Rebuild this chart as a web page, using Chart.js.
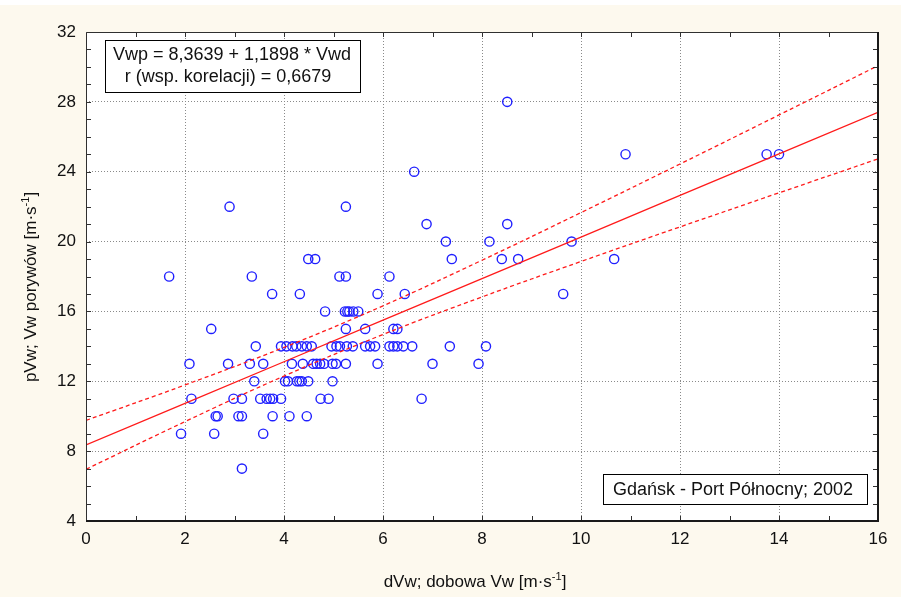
<!DOCTYPE html>
<html>
<head>
<meta charset="utf-8">
<script src="https://cdn.jsdelivr.net/npm/chart.js@4/dist/chart.umd.min.js"></script>
<style>
  html, body { margin: 0; padding: 0; background: #fdf9ee; }
  canvas { display: block; }
</style>
</head>
<body>
<canvas id="gustChart" width="901" height="597"></canvas>
<script>
// dobowa prędkość wiatru (x) i porywy (y)
const dailyWind = [
    3.15,
    1.92, 2.59, 3.58,
    2.62, 2.66, 3.08, 3.15, 3.77, 4.11, 4.46,
    2.13, 2.98, 3.15, 3.52, 3.65, 3.72, 3.78, 3.94, 4.74, 4.90, 6.78,
    3.40, 4.02, 4.08, 4.26, 4.31, 4.36, 4.49, 4.98,
    2.09, 2.87, 3.31, 3.58, 4.16, 4.38, 4.59, 4.66, 4.73, 4.81, 4.98, 5.05, 5.25, 5.89, 7.00, 7.93,
    3.43, 3.94, 4.05, 4.17, 4.25, 4.36, 4.46, 4.56, 4.96, 5.06, 5.13, 5.27, 5.39, 5.64, 5.74, 5.84, 6.13, 6.21, 6.29, 6.41, 6.59, 7.35, 8.08,
    2.53, 5.25, 5.64, 6.21, 6.29,
    4.83, 5.23, 5.28, 5.32, 5.40, 5.50,
    3.76, 4.32, 5.89, 6.44, 9.64,
    1.68, 3.35, 5.12, 5.25, 6.13,
    4.49, 4.63, 7.39, 8.40, 8.73, 10.67,
    7.27, 8.15, 9.81,
    6.88, 8.51,
    2.90, 5.25,
    6.63,
    10.90, 13.75, 14.00,
    8.51
];
const gustWind = [
    7,
    9, 9, 9,
    10, 10, 10, 10, 10, 10, 10,
    11, 11, 11, 11, 11, 11, 11, 11, 11, 11, 11,
    12, 12, 12, 12, 12, 12, 12, 12,
    13, 13, 13, 13, 13, 13, 13, 13, 13, 13, 13, 13, 13, 13, 13, 13,
    14, 14, 14, 14, 14, 14, 14, 14, 14, 14, 14, 14, 14, 14, 14, 14, 14, 14, 14, 14, 14, 14, 14,
    15, 15, 15, 15, 15,
    16, 16, 16, 16, 16, 16,
    17, 17, 17, 17, 17,
    18, 18, 18, 18, 18,
    19, 19, 19, 19, 19, 19,
    20, 20, 20,
    21, 21,
    22, 22,
    24,
    25, 25, 25,
    28
];

// linia regresji i przedział ufności 0,95
const fitX = [0, 2, 4, 6, 8, 10, 12, 14, 16];
const fitLine = [8.36, 10.74, 13.12, 15.50, 17.88, 20.26, 22.64, 25.02, 27.40];
const fitUpper = [9.76, 11.79, 13.94, 16.32, 18.93, 21.66, 24.44, 27.25, 30.07];
const fitLower = [6.96, 9.69, 12.30, 14.68, 16.83, 18.86, 20.84, 22.79, 24.73];

const xTicks = [0, 2, 4, 6, 8, 10, 12, 14, 16];
const yTicks = [4, 8, 12, 16, 20, 24, 28, 32];

const FONT = '"Liberation Sans", Arial, sans-serif';

function toPoints(xs, ys) {
    return xs.map((x, i) => ({ x: x, y: ys[i] }));
}

// tekst z indeksem górnym (m·s^-1)
function drawSupText(ctx, parts, x, y, size) {
    ctx.font = size + 'px ' + FONT;
    let w = 0;
    const widths = parts.map(p => {
        ctx.font = (p.sup ? size * 0.65 : size) + 'px ' + FONT;
        const m = ctx.measureText(p.t).width;
        w += m;
        return m;
    });
    let cx = x - w / 2;
    parts.forEach((p, i) => {
        ctx.font = (p.sup ? size * 0.65 : size) + 'px ' + FONT;
        ctx.fillText(p.t, cx, p.sup ? y - size * 0.42 : y);
        cx += widths[i];
    });
}

const framePlugin = {
    id: 'frame',
    beforeDraw(chart) {
        const { ctx, chartArea: a } = chart;
        ctx.save();
        ctx.fillStyle = '#fdf9ee';
        ctx.fillRect(0, 0, chart.width, chart.height);
        ctx.fillStyle = '#ffffff';
        ctx.fillRect(0, 0, chart.width, 5);
        ctx.fillRect(a.left, a.top, a.right - a.left, a.bottom - a.top);
        ctx.restore();
    },
    afterDraw(chart) {
        const { ctx, chartArea: a, scales } = chart;
        ctx.save();
        // ramka
        ctx.strokeStyle = '#303030';
        ctx.lineWidth = 1;
        ctx.beginPath();
        ctx.moveTo(a.left + 0.5, a.bottom);
        ctx.lineTo(a.left + 0.5, a.top + 0.5);
        ctx.lineTo(a.right, a.top + 0.5);
        ctx.stroke();
        ctx.strokeStyle = '#1a1a1a';
        ctx.lineWidth = 2;
        ctx.beginPath();
        ctx.moveTo(a.right, a.top);
        ctx.lineTo(a.right, a.bottom);
        ctx.lineTo(a.left, a.bottom);
        ctx.stroke();

        // podziałka do wewnątrz
        ctx.lineWidth = 1;
        ctx.strokeStyle = '#303030';
        ctx.beginPath();
        for (let v = 1; v < 16; v++) {
            const px = Math.round(scales.x.getPixelForValue(v)) + 0.5;
            ctx.moveTo(px, a.bottom - 1); ctx.lineTo(px, a.bottom - 5);
            ctx.moveTo(px, a.top + 1); ctx.lineTo(px, a.top + 5);
        }
        for (let v = 5; v < 32; v++) {
            const py = Math.round(scales.y.getPixelForValue(v)) + 0.5;
            ctx.moveTo(a.left + 1, py); ctx.lineTo(a.left + 5, py);
            ctx.moveTo(a.right - 1, py); ctx.lineTo(a.right - 5, py);
        }
        ctx.stroke();

        // ramki z opisem
        ctx.fillStyle = '#ffffff';
        ctx.strokeStyle = '#000000';
        ctx.lineWidth = 1;
        ctx.fillRect(105.5, 40.5, 255, 52);
        ctx.strokeRect(105.5, 40.5, 255, 52);
        ctx.fillRect(603.5, 474.5, 264, 30);
        ctx.strokeRect(603.5, 474.5, 264, 30);

        ctx.fillStyle = '#111111';
        ctx.font = '18px ' + FONT;
        ctx.textAlign = 'center';
        ctx.textBaseline = 'middle';
        ctx.fillText('Vwp = 8,3639 + 1,1898 * Vwd', 232, 55);
        ctx.fillText('r (wsp. korelacji) = 0,6679', 228, 77);
        ctx.fillText('Gdańsk - Port Północny; 2002', 733, 490);

        // tytuły osi
        ctx.textAlign = 'left';
        ctx.textBaseline = 'alphabetic';
        drawSupText(ctx, [
            { t: 'dVw; dobowa Vw [m·s' }, { t: '-1', sup: true }, { t: ']' }
        ], 475, 587, 17);
        ctx.translate(36, 287);
        ctx.rotate(-Math.PI / 2);
        drawSupText(ctx, [
            { t: 'pVw; Vw porywów [m·s' }, { t: '-1', sup: true }, { t: ']' }
        ], 0, 0, 17);
        ctx.restore();
    }
};

const ctx = document.getElementById('gustChart').getContext('2d');
const gustChart = new Chart(ctx, {
    type: 'scatter',
    data: {
        datasets: [{
            type: 'line',
            data: toPoints(fitX, fitLine),
            borderColor: '#ff1a1a',
            borderWidth: 1.3,
            pointRadius: 0,
            tension: 0
        }, {
            type: 'line',
            data: toPoints(fitX, fitUpper),
            borderColor: '#ff1a1a',
            borderWidth: 1.3,
            borderDash: [4, 3],
            pointRadius: 0,
            tension: 0.4
        }, {
            type: 'line',
            data: toPoints(fitX, fitLower),
            borderColor: '#ff1a1a',
            borderWidth: 1.3,
            borderDash: [4, 3],
            pointRadius: 0,
            tension: 0.4
        }, {
            data: toPoints(dailyWind, gustWind),
            pointStyle: 'circle',
            pointRadius: 4.6,
            pointBorderWidth: 1.4,
            pointBorderColor: '#2020ff',
            pointBackgroundColor: 'rgba(0,0,0,0)'
        }]
    },
    options: {
        responsive: false,
        animation: false,
        devicePixelRatio: 1,
        layout: { padding: { top: 32, right: 23, left: 0, bottom: 0 } },
        plugins: {
            legend: { display: false },
            tooltip: { enabled: false }
        },
        scales: {
            x: {
                type: 'linear',
                min: 0,
                max: 16,
                afterFit: s => { s.height = 76; },
                afterBuildTicks: s => { s.ticks = xTicks.map(v => ({ value: v })); },
                ticks: { color: '#111', font: { family: FONT, size: 17 }, padding: 8, maxRotation: 0 },
                grid: { color: '#8a8a8a', drawTicks: false },
                border: { display: false, dash: [1, 2] }
            },
            y: {
                type: 'linear',
                min: 4,
                max: 32,
                afterFit: s => { s.width = 86; },
                afterBuildTicks: s => { s.ticks = yTicks.map(v => ({ value: v })); },
                ticks: { color: '#111', font: { family: FONT, size: 17 }, padding: 10 },
                grid: { color: '#8a8a8a', drawTicks: false },
                border: { display: false, dash: [1, 2] }
            }
        }
    },
    plugins: [framePlugin]
});
</script>
</body>
</html>
